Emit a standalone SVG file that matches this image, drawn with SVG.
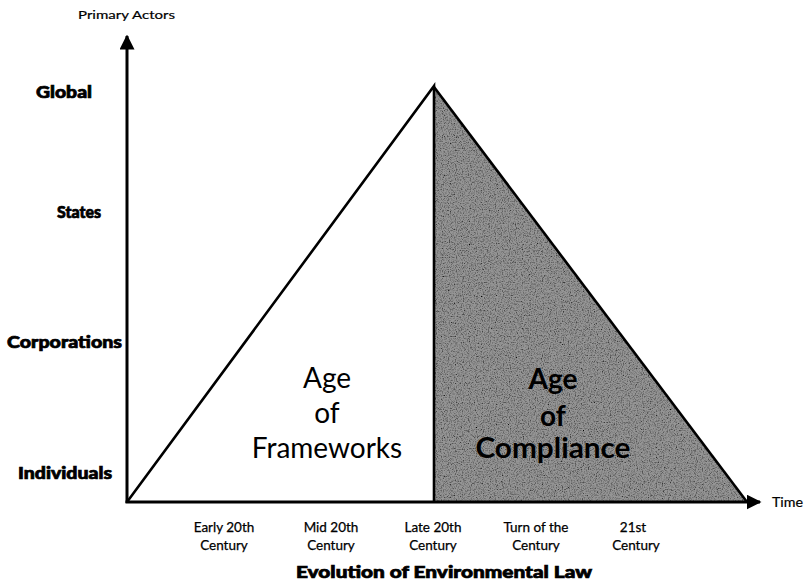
<svg xmlns="http://www.w3.org/2000/svg" width="804" height="582" viewBox="0 0 804 582">
  <style>
    .axis { stroke: #000; stroke-width: 3; fill: none; }
    .edge { stroke: #000; stroke-width: 2.6; fill: none; stroke-linejoin: miter; }
    .lvl { font-family: Lato, "Open Sans", sans-serif; font-weight: 900; font-size: 16px; fill: #000; stroke: #000; stroke-width: 0.7; }
    .tick { font-family: Lato, "Open Sans", sans-serif; font-size: 13.5px; fill: #000; text-anchor: middle; stroke: #000; stroke-width: 0.25; }
    .era { font-family: Lato, "Open Sans", sans-serif; font-size: 28px; fill: #000; text-anchor: middle; }
    .title { font-family: Lato, "Open Sans", sans-serif; font-weight: 900; font-size: 16px; fill: #000; stroke: #000; stroke-width: 0.7; }
    .small { font-family: Lato, "Open Sans", sans-serif; font-size: 12px; fill: #000; stroke: #000; stroke-width: 0.2; }
  </style>
  <defs>
    <marker id="head" viewBox="0 0 10 10" refX="9" refY="5" markerWidth="5" markerHeight="5" orient="auto" markerUnits="strokeWidth">
      <path d="M0,0 L10,5 L0,10 z" fill="#000"/>
    </marker>
    <!-- grainy halftone-like shading -->
    <filter id="grain" x="0" y="0" width="1" height="1">
      <feTurbulence type="fractalNoise" baseFrequency="0.85" numOctaves="2" seed="4" result="n"/>
      <feColorMatrix in="n" type="matrix" values="0 0 0 0 0  0 0 0 0 0  0 0 0 0 0  0 0 0 -2.2 1.25" result="dots"/>
      <feComposite in="dots" in2="SourceGraphic" operator="in" result="d2"/>
      <feMerge><feMergeNode in="SourceGraphic"/><feMergeNode in="d2"/></feMerge>
    </filter>
  </defs>

  <!-- shaded compliance region -->
  <g id="compliance">
    <polygon points="434,87 434,502 747,502" fill="#959595" filter="url(#grain)"/>
    <polyline class="edge" points="434,87 747,502"/>
    <text class="era" font-weight="bold"><tspan x="553" y="389">Age</tspan><tspan x="553" y="426">of</tspan><tspan x="553" y="458" textLength="155" lengthAdjust="spacingAndGlyphs">Compliance</tspan></text>
  </g>

  <!-- frameworks region -->
  <g id="frameworks">
    <polyline class="edge" points="127,502 434,86 434,502"/>
    <text class="era"><tspan x="327" y="388">Age</tspan><tspan x="327" y="423">of</tspan><tspan x="327" y="458">Frameworks</tspan></text>
  </g>

  <!-- axes -->
  <g id="connectors">
    <line class="axis" x1="127" y1="503" x2="127" y2="36" marker-end="url(#head)"/>
    <line class="axis" x1="125.5" y1="502" x2="760" y2="502" marker-end="url(#head)"/>
  </g>

  <g id="y-axis-labels">
    <text class="small" x="78" y="19" textLength="97" lengthAdjust="spacingAndGlyphs">Primary Actors</text>
    <text class="lvl" x="36" y="98" textLength="56" lengthAdjust="spacingAndGlyphs">Global</text>
    <text class="lvl" x="57" y="218" textLength="44" lengthAdjust="spacingAndGlyphs">States</text>
    <text class="lvl" x="7" y="348" textLength="115" lengthAdjust="spacingAndGlyphs">Corporations</text>
    <text class="lvl" x="18" y="479" textLength="94" lengthAdjust="spacingAndGlyphs">Individuals</text>
  </g>

  <g id="x-axis-labels">
    <text class="small" x="772" y="507" style="font-size:13px" textLength="31" lengthAdjust="spacingAndGlyphs">Time</text>
    <text class="tick"><tspan x="224" y="532">Early 20th</tspan><tspan x="224" y="550">Century</tspan></text>
    <text class="tick"><tspan x="331" y="532">Mid 20th</tspan><tspan x="331" y="550">Century</tspan></text>
    <text class="tick"><tspan x="433" y="532">Late 20th</tspan><tspan x="433" y="550">Century</tspan></text>
    <text class="tick"><tspan x="536" y="532">Turn of the</tspan><tspan x="536" y="550">Century</tspan></text>
    <text class="tick"><tspan x="633" y="532">21st</tspan><tspan x="636" y="550">Century</tspan></text>
    <text class="title" x="296" y="578" textLength="296" lengthAdjust="spacingAndGlyphs">Evolution of Environmental Law</text>
  </g>
</svg>
